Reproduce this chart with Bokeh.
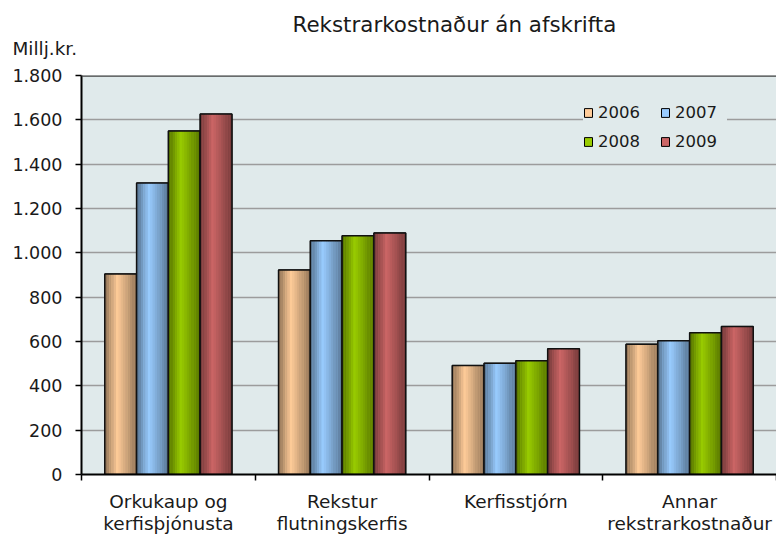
from bokeh.plotting import figure
from bokeh.models import (Range1d, FixedTicker, Legend, LegendItem, Title,
                          ColumnDataSource, Span)
from bokeh.embed import file_html
from bokeh.resources import INLINE

# ---- data ----
categories = ["Orkukaup og\nkerfisþjónusta", "Rekstur\nflutningskerfis",
              "Kerfisstjórn", "Annar\nrekstrarkostnaður"]
years = ["2006", "2007", "2008", "2009"]
v2006 = [905, 923, 492, 588]
v2007 = [1315, 1054, 502, 603]
v2008 = [1550, 1077, 513, 639]
v2009 = [1626, 1090, 567, 668]
series = [v2006, v2007, v2008, v2009]
colors = ["#FFCC99", "#99CCFF", "#99CC00", "#CC6666"]
y_ticks = [0, 200, 400, 600, 800, 1000, 1200, 1400, 1600, 1800]
y_tick_labels = ["0", "200", "400", "600", "800", "1.000", "1.200", "1.400",
                 "1.600", "1.800"]
title_text = "Rekstrarkostnaður án afskrifta"
unit_text = "Millj.kr."

FONT = "DejaVu Sans"
TXT = "#1a1a1a"

p = figure(width=776, height=536, output_backend="svg", toolbar_location=None,
           x_range=Range1d(0, len(categories)),
           y_range=Range1d(y_ticks[0], y_ticks[-1]),
           min_border_left=81, min_border_right=0, min_border_top=75,
           min_border_bottom=62)
p.title.text = title_text
p.title.align = "left"
p.title.offset = 211
p.title.text_font = FONT
p.title.text_font_size = "21.4px"
p.title.text_font_style = "normal"
p.title.text_color = TXT
p.title.standoff = -37

unit_title = Title(text=unit_text, align="left", offset=-69, text_font=FONT,
                   text_font_size="18.4px", text_font_style="normal",
                   text_color=TXT, standoff=34)
p.add_layout(unit_title, "above")

p.background_fill_color = "#e0eaeb"
p.border_fill_color = "white"
p.outline_line_color = None

# y axis
p.yaxis.ticker = FixedTicker(ticks=y_ticks)
p.yaxis.major_label_overrides = {t: l for t, l in zip(y_ticks, y_tick_labels)}
p.yaxis.axis_line_color = "black"
p.yaxis.axis_line_width = 2
p.yaxis.major_tick_in = 0
p.yaxis.major_tick_out = 6
p.yaxis.major_tick_line_color = "black"
p.yaxis.major_tick_line_width = 1.5
p.yaxis.minor_tick_line_color = None
p.yaxis.major_label_standoff = 13
p.yaxis.major_label_text_font = FONT
p.yaxis.major_label_text_font_size = "17.5px"
p.yaxis.major_label_text_color = TXT

# x axis: labels at group centres, ticks at group boundaries
centers = [i + 0.5 for i in range(len(categories))]
bounds = [float(i) for i in range(len(categories) + 1)]
p.xaxis.ticker = FixedTicker(ticks=centers, minor_ticks=bounds)
p.xaxis.major_label_overrides = {c: l for c, l in zip(centers, categories)}
p.xaxis.major_tick_line_color = None
p.xaxis.major_tick_in = 0
p.xaxis.major_tick_out = 0
p.xaxis.minor_tick_in = 0
p.xaxis.minor_tick_out = 6
p.xaxis.minor_tick_line_color = "black"
p.xaxis.minor_tick_line_width = 1.5
p.xaxis.axis_line_color = "black"
p.xaxis.axis_line_width = 2
p.xaxis.major_label_standoff = 10
p.xaxis.major_label_text_font = FONT
p.xaxis.major_label_text_font_size = "18.5px"
p.xaxis.major_label_text_color = TXT
p.xaxis.major_label_text_line_height = 1.05

p.xgrid.grid_line_color = None
p.ygrid.ticker = FixedTicker(ticks=y_ticks)
p.ygrid.grid_line_color = "#9c9c9c"
p.ygrid.grid_line_width = 1.5

# dark top border of the plot area
p.add_layout(Span(location=y_ticks[-1], dimension="width",
                  line_color="#404040", line_width=2.5))


def shade(hexcol, m):
    r, g, b = (int(hexcol[i:i + 2], 16) for i in (1, 3, 5))
    return "#%02x%02x%02x" % (int(r * m), int(g * m), int(b * m))


def profile(t):
    if t < 0.4:
        return 0.55 + 0.45 * (t / 0.4)
    return 1.0 - 0.42 * ((t - 0.4) / 0.6)


bw = 0.183
nstrip = 14
items = {}
for k, (vals, col, yr) in enumerate(zip(series, colors, years)):
    off = (k - 1.5) * bw
    xs = [c + off for c in centers]
    src = ColumnDataSource(dict(x=xs, top=vals))
    base = p.vbar(x="x", top="top", width=bw, source=src, fill_color=col,
                  line_color="black", line_width=1)
    for s in range(nstrip):
        t = (s + 0.5) / nstrip
        sx = [x - bw / 2 + t * bw for x in xs]
        p.vbar(x=sx, top=vals, width=bw / nstrip * 1.08,
               fill_color=shade(col, profile(t)), line_color=None)
    p.vbar(x="x", top="top", width=bw, source=src, fill_color=None,
           line_color="#111111", line_width=1.5)
    items[yr] = LegendItem(label=yr, renderers=[base])

# legend fills column by column: order so rows read 2006 2007 / 2008 2009
legend_order = ["2006", "2008", "2007", "2009"]
legend = Legend(items=[items[y] for y in legend_order], ncols=2,
                location=(502, 323),
                background_fill_color="#e0eaeb", background_fill_alpha=1,
                border_line_color=None, glyph_width=10, glyph_height=11,
                label_standoff=5, spacing=10, padding=8, margin=0,
                label_width=52, label_height=19,
                label_text_font=FONT, label_text_font_size="16.5px",
                label_text_color=TXT, item_background_fill_alpha=0)
legend.label_text_baseline = "middle"
p.add_layout(legend)

open("out.html", "w").write(file_html(p, INLINE))
